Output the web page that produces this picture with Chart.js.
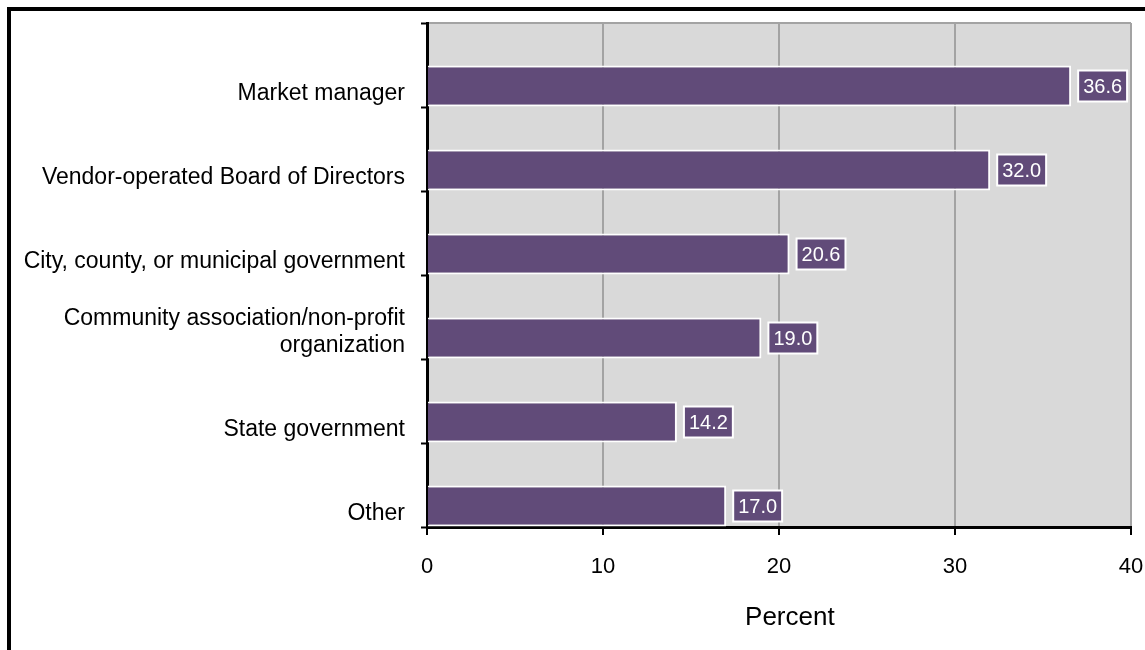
<!DOCTYPE html>
<html>
<head>
<meta charset="utf-8">
<script src="https://cdn.jsdelivr.net/npm/chart.js@4/dist/chart.umd.min.js"></script>
<style>
  html, body { margin: 0; padding: 0; background: #fff; overflow: hidden; }
  #frame {
    position: absolute; left: 7px; top: 7px;
    width: 1300px; height: 800px;
    border: 4px solid #000;
  }
  #wrap { position: absolute; left: 0; top: 0; width: 1145px; height: 650px; }
</style>
</head>
<body>
<div id="frame"></div>
<div id="wrap"><canvas id="chart"></canvas></div>
<script>
// categories (top to bottom); the empty last line nudges the two-line label up
const categories = [
  "Market manager",
  "Vendor-operated Board of Directors",
  "City, county, or municipal government",
  ["Community association/non-profit", "organization", ""],
  "State government",
  "Other",
];
const percents = [36.6, 32.0, 20.6, 19.0, 14.2, 17.0];
const spacer = [null, null, null, null, null, null];
const xTicks = [0, 10, 20, 30, 40];

const PURPLE = "#614b79";
const FONT = "'Liberation Sans', Arial, sans-serif";
const NARROW = "'Liberation Sans Narrow', 'Arial Narrow', 'Liberation Sans', sans-serif";

// grey plot background with a thin top edge
const plotBackground = {
  id: "plotBackground",
  beforeDraw(chart) {
    const { ctx, chartArea: a } = chart;
    ctx.save();
    ctx.fillStyle = "#d9d9d9";
    ctx.fillRect(a.left, a.top, a.right - a.left, a.bottom - a.top);
    ctx.strokeStyle = "#a3a3a3";
    ctx.lineWidth = 2;
    ctx.beginPath();
    ctx.moveTo(a.left, a.top);
    ctx.lineTo(a.right, a.top);
    ctx.stroke();
    ctx.restore();
  },
};

// boxed value labels to the right of each bar
const valueBoxes = {
  id: "valueBoxes",
  afterDatasetsDraw(chart) {
    const { ctx } = chart;
    const meta = chart.getDatasetMeta(1);
    ctx.save();
    ctx.font = "20px " + FONT;
    ctx.textAlign = "center";
    ctx.textBaseline = "middle";
    meta.data.forEach((bar, i) => {
      const text = percents[i].toFixed(1);
      const w = ctx.measureText(text).width + 10;
      const h = 31;
      const x0 = bar.x + 7;
      const y0 = bar.y - h / 2;
      ctx.fillStyle = PURPLE;
      ctx.fillRect(x0, y0, w, h);
      ctx.strokeStyle = "#fff";
      ctx.lineWidth = 2;
      ctx.strokeRect(x0, y0, w, h);
      ctx.fillStyle = "#fff";
      ctx.fillText(text, x0 + w / 2, bar.y + 1);
    });
    ctx.restore();
  },
};

document.addEventListener("DOMContentLoaded", () => {
  const ctx = document.getElementById("chart").getContext("2d");
  new Chart(ctx, {
    type: "bar",
    data: {
      labels: categories,
      datasets: [
        {
          // empty slot so each real bar sits in the lower half of its band
          label: "spacer",
          data: spacer,
          backgroundColor: "rgba(0,0,0,0)",
        },
        {
          label: "Percent",
          data: percents,
          backgroundColor: PURPLE,
          borderColor: "#fff",
          borderWidth: 2,
          borderSkipped: "start",
        },
      ],
    },
    options: {
      indexAxis: "y",
      responsive: true,
      maintainAspectRatio: false,
      animation: false,
      datasets: {
        bar: { categoryPercentage: 1.0, barPercentage: 0.98 },
      },
      layout: { padding: { top: 23, right: 14, bottom: 17, left: 0 } },
      plugins: {
        legend: { display: false },
        tooltip: { enabled: false },
      },
      scales: {
        x: {
          min: 0,
          max: 40,
          afterBuildTicks: (scale) => {
            scale.ticks = xTicks.map((v) => ({ value: v }));
          },
          afterFit: (scale) => {
            scale.height = 106;
            scale.paddingLeft = 0;
            scale.paddingRight = 0;
          },
          grid: {
            color: "#a3a3a3",
            lineWidth: 2,
            tickColor: "#000",
            tickWidth: 2,
            tickLength: 8,
          },
          border: { color: "#000", width: 3 },
          ticks: {
            color: "#000",
            font: { family: NARROW, size: 22 },
            padding: 19,
          },
          title: {
            display: true,
            text: "   Percent",
            color: "#000",
            font: { family: FONT, size: 26 },
            padding: { top: 22, bottom: 0 },
          },
        },
        y: {
          afterFit: (scale) => {
            scale.width = 427;
            scale.paddingTop = 0;
            scale.paddingBottom = 0;
          },
          grid: {
            offset: true,
            drawOnChartArea: false,
            tickColor: "#000",
            tickWidth: 2,
            tickLength: 6,
          },
          border: { color: "#000", width: 3 },
          ticks: {
            color: "#000",
            font: { family: FONT, size: 23, lineHeight: 1.17 },
            padding: 16,
            labelOffset: 29,
            autoSkip: false,
          },
        },
      },
    },
    plugins: [plotBackground, valueBoxes],
  });
});
</script>
</body>
</html>
